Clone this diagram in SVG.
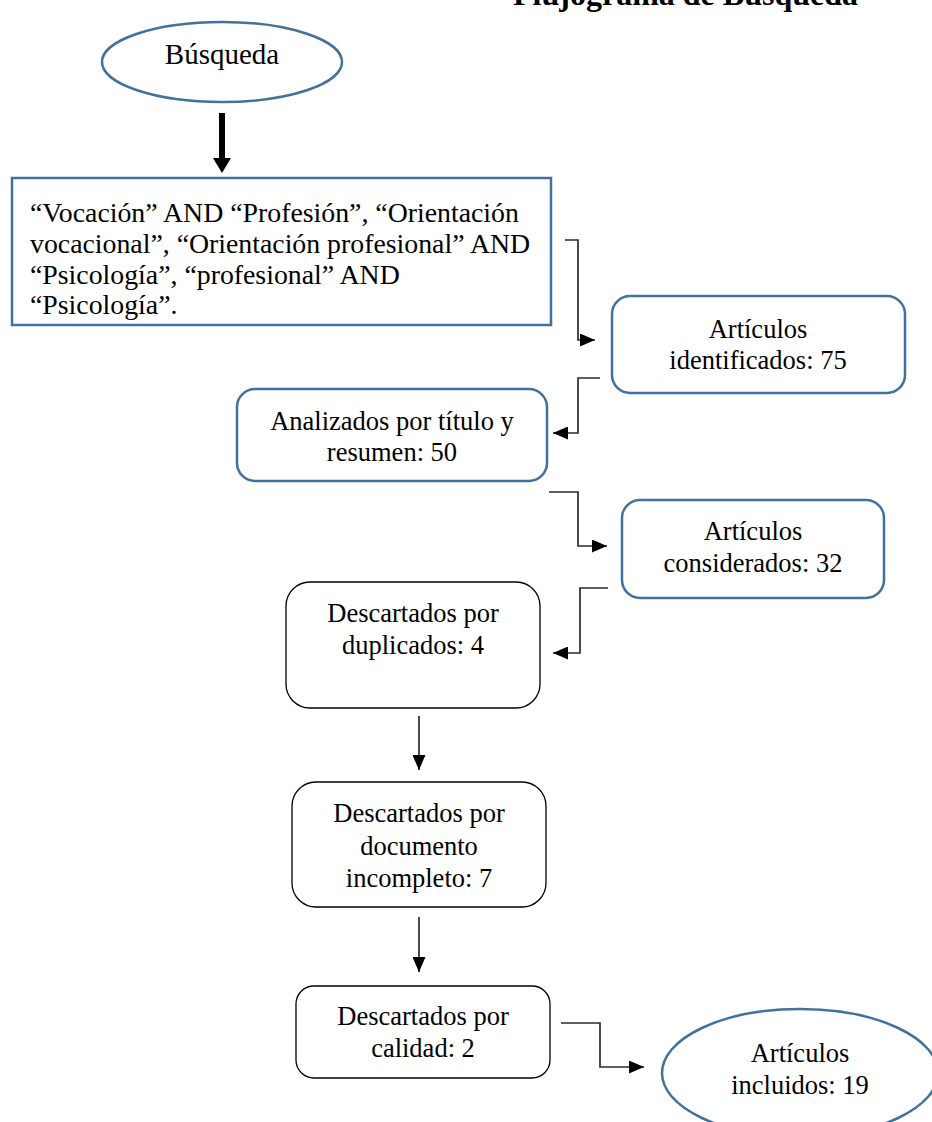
<svg xmlns="http://www.w3.org/2000/svg" width="932" height="1122" viewBox="0 0 932 1122">
<defs>
<style>
.t{font-family:"Liberation Serif","Times New Roman",serif;font-size:26.5px;fill:#000}
.q{font-size:27.8px}
.c{text-anchor:middle}
.blue{fill:#fff;stroke:#41719C;stroke-width:2.5}
.blk{fill:#fff;stroke:#000;stroke-width:1.3}
.con{fill:none;stroke:#2b2b2b;stroke-width:1.7}
</style>
<marker id="ah" viewBox="0 0 15 13" refX="15" refY="6.5" markerWidth="15" markerHeight="13" markerUnits="userSpaceOnUse" orient="auto">
<path d="M0,0 L15,6.5 L0,13 z" fill="#000"/>
</marker>
</defs>
<rect width="932" height="1122" fill="#fff"/>
<text x="858" y="5" class="t" style="font-size:32px;font-weight:bold;text-anchor:end">Flujograma de Búsqueda</text>

<g id="busqueda">
<ellipse cx="222" cy="62" rx="120" ry="40" class="blue"/>
<text x="222" y="64" class="t c" style="font-size:29px">Búsqueda</text>
</g>

<g id="query">
<rect x="12" y="178" width="539" height="147" class="blue"/>
<text class="t q" x="30" y="222">“Vocación” AND “Profesión”, “Orientación</text>
<text class="t q" x="30" y="253">vocacional”, “Orientación profesional” AND</text>
<text class="t q" x="30" y="284">“Psicología”, “profesional” AND</text>
<text class="t q" x="30" y="314">“Psicología”.</text>
</g>

<g id="identificados">
<rect x="612" y="296" width="293" height="97" rx="18" class="blue"/>
<text class="t c" x="758" y="338">Artículos</text>
<text class="t c" x="758" y="369">identificados: 75</text>
</g>

<g id="analizados">
<rect x="237" y="389" width="310" height="92" rx="18" class="blue"/>
<text class="t c" x="392" y="430">Analizados por título y</text>
<text class="t c" x="392" y="461">resumen: 50</text>
</g>

<g id="considerados">
<rect x="622" y="500" width="262" height="98" rx="18" class="blue"/>
<text class="t c" x="753" y="540">Artículos</text>
<text class="t c" x="753" y="572">considerados: 32</text>
</g>

<g id="duplicados">
<rect x="286" y="582" width="254" height="126" rx="24" class="blk"/>
<text class="t c" x="413" y="622">Descartados por</text>
<text class="t c" x="413" y="654">duplicados: 4</text>
</g>

<g id="incompleto">
<rect x="292" y="782" width="254" height="125" rx="24" class="blk"/>
<text class="t c" x="419" y="822">Descartados por</text>
<text class="t c" x="419" y="855">documento</text>
<text class="t c" x="419" y="887">incompleto: 7</text>
</g>

<g id="calidad">
<rect x="296" y="986" width="254" height="92" rx="18" class="blk"/>
<text class="t c" x="423" y="1025">Descartados por</text>
<text class="t c" x="423" y="1057">calidad: 2</text>
</g>

<g id="incluidos">
<ellipse cx="800" cy="1073" rx="138" ry="64" class="blue"/>
<text class="t c" x="800" y="1062">Artículos</text>
<text class="t c" x="800" y="1094">incluidos: 19</text>
</g>

<g id="connectors">
<line x1="222" y1="113" x2="222" y2="160" stroke="#000" stroke-width="6"/>
<path d="M213,158 L231,158 L222,173 z" fill="#000"/>
<path class="con" d="M565,240 H578 V340 H595" marker-end="url(#ah)"/>
<path class="con" d="M600,378 H578 V433 H553" marker-end="url(#ah)"/>
<path class="con" d="M549,492 H578 V546 H607" marker-end="url(#ah)"/>
<path class="con" d="M608,588 H580 V653 H553" marker-end="url(#ah)"/>
<path class="con" d="M419,716 V770" marker-end="url(#ah)"/>
<path class="con" d="M419,917 V972" marker-end="url(#ah)"/>
<path class="con" d="M561,1023 H600 V1067 H644" marker-end="url(#ah)"/>
</g>
</svg>
